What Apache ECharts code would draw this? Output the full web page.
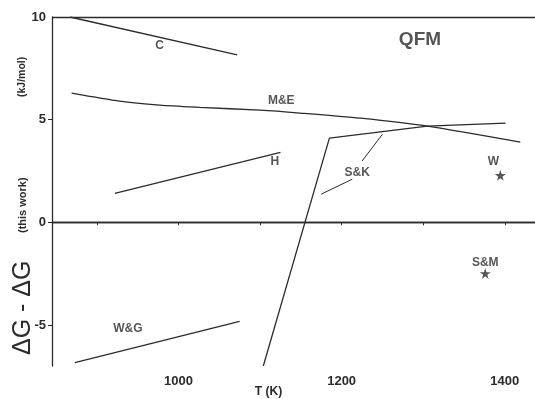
<!DOCTYPE html>
<html><head><meta charset="utf-8">
<script src="https://cdn.jsdelivr.net/npm/echarts@6/dist/echarts.min.js"></script>
<style>html,body{margin:0;padding:0;background:#fff}#c{width:535px;height:399px}</style>
</head><body><div id="c"></div>
<script>
const xRange = [845, 1437];
const yRange = [-7, 10];
const xTickLabels = [1000, 1200, 1400];
const xTicks = [900, 1000, 1100, 1200, 1300, 1400];
const yTickLabels = [-5, 0, 5, 10];
const curveC = [[867, 10], [1072, 8.15]];
const curveME = [[869, 6.29], [928, 5.90], [977, 5.71], [1026, 5.60], [1100, 5.46], [1149, 5.32], [1223, 5.07], [1305, 4.68], [1419, 3.90]];
const curveH = [[922, 1.41], [1125, 3.41]];
const curveSK = [[1104, -7], [1185, 4.10], [1305, 4.68], [1401, 4.83]];
const curveWG = [[873, -6.83], [1075, -4.83]];
const leaderSK1 = [[1175, 1.37], [1213, 2.10]];
const leaderSK2 = [[1225, 2.98], [1250, 4.29]];
const starPoints = [[1394.5, 2.29], [1376, -2.49]];
const labelNames = ['C', 'M&E', 'H', 'S&K', 'W', 'S&M', 'W&G'];
const labelPos = [[977, 8.59], [1126, 5.90], [1118, 2.93], [1219, 2.44], [1386, 2.93], [1376, -1.95], [938, -5.17]];
const titleText = 'QFM';
const titlePos = [1296, 8.88];

const ink = '#2b2b2b';
const font = 'Liberation Sans, Arial, sans-serif';
const star = 'path://M50,0 L61,35 L98,35 L68,57 L79,91 L50,70 L21,91 L32,57 L2,35 L39,35 Z';

function lineSeries(data, smooth, w) {
  return {type: 'line', data: data, symbol: 'none', smooth: smooth || false, silent: true,
    lineStyle: {color: ink, width: w || 1.3}, z: 3};
}

const chart = echarts.init(document.getElementById('c'));
chart.setOption({
  animation: false,
  backgroundColor: '#fff',
  grid: {left: 52, right: 0, top: 17, bottom: 33, containLabel: false, outerBoundsMode: 'none'},
  xAxis: {
    type: 'value', min: xRange[0], max: xRange[1],
    name: 'T (K)', nameLocation: 'middle', nameGap: 20, nameMoveOverlap: false,
    nameTextStyle: {color: ink, fontFamily: font, fontWeight: 'bold', fontSize: 12, padding: [0, 0, 0, -50]},
    axisLine: {lineStyle: {color: ink, width: 1.3}},
    axisTick: {show: true, length: 3, customValues: xTicks, lineStyle: {color: ink}},
    axisLabel: {customValues: xTickLabels, color: ink, fontFamily: font, fontWeight: 'bold', fontSize: 13, margin: 9,
      formatter: v => String(v)},
    splitLine: {show: false}
  },
  yAxis: {
    type: 'value', min: yRange[0], max: yRange[1],
    axisLine: {show: true, lineStyle: {color: ink, width: 1.3}},
    axisTick: {show: true, length: 4, customValues: yTickLabels.slice(0, 3), lineStyle: {color: ink}},
    axisLabel: {customValues: yTickLabels, color: ink, fontFamily: font, fontWeight: 'bold', fontSize: 13, margin: 6,
      formatter: v => String(v)},
    splitLine: {show: false}
  },
  graphic: [
    {type: 'text', x: 23, y: 355, rotation: Math.PI / 2,
      style: {text: 'ΔG - ΔG', fill: ink, font: '25px ' + font, textAlign: 'left', textVerticalAlign: 'middle'}},
    {type: 'text', x: 23, y: 233, rotation: Math.PI / 2,
      style: {text: '(this work)', fill: ink, font: 'bold 11px ' + font, textAlign: 'left', textVerticalAlign: 'middle'}},
    {type: 'text', x: 22, y: 97, rotation: Math.PI / 2,
      style: {text: '(kJ/mol)', fill: ink, font: 'bold 10.5px ' + font, textAlign: 'left', textVerticalAlign: 'middle'}}
  ],
  series: [
    {type: 'line', data: [], silent: true,
      markLine: {silent: true, symbol: 'none', label: {show: false},
        lineStyle: {color: ink, width: 1.3, type: 'solid'},
        data: [{yAxis: 0}, {yAxis: 10}]}},
    lineSeries(curveC),
    lineSeries(curveME, 0.25),
    lineSeries(curveH),
    lineSeries(curveSK),
    lineSeries(curveWG),
    lineSeries(leaderSK1, false, 1),
    lineSeries(leaderSK2, false, 1),
    {type: 'scatter', data: starPoints, symbol: star, symbolSize: 11, silent: true,
      itemStyle: {color: ink}, z: 4},
    {type: 'scatter', symbolSize: 0, silent: true, z: 5,
      data: labelNames.map((n, i) => ({name: n, value: labelPos[i]})),
      label: {show: true, position: 'inside', formatter: '{b}', color: ink,
        fontFamily: font, fontWeight: 'bold', fontSize: 12}},
    {type: 'scatter', symbolSize: 0, silent: true, z: 5,
      data: [{name: titleText, value: titlePos}],
      label: {show: true, position: 'inside', formatter: '{b}', color: ink,
        fontFamily: font, fontWeight: 'bold', fontSize: 19}}
  ]
});
</script></body></html>
